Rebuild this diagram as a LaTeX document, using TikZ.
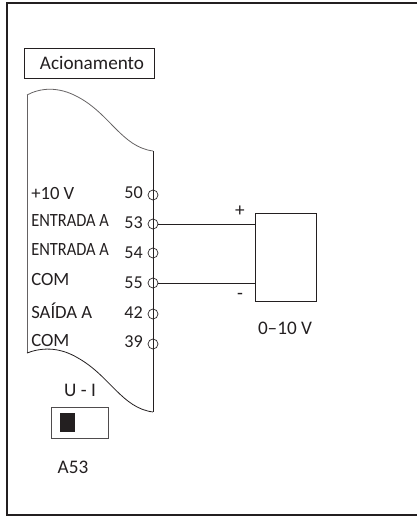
\documentclass[tikz,border=0pt]{standalone}
\usepackage{fontspec}
\setmainfont{Carlito}
\newfontface\narrowface[FakeStretch=0.88]{Carlito}
\usepackage{tikz}
\usetikzlibrary{calc}
\definecolor{inkgray}{HTML}{231F20}

\tikzset{
  label text/.style={text=inkgray,font=\fontsize{14.4}{15}\selectfont,inner sep=0pt},
  pin text/.style={label text,anchor=east,font=\fontsize{13.6}{14}\selectfont},
  name text/.style={label text,anchor=west,font=\fontsize{14}{15}\selectfont},
  narrow text/.style={name text,font=\fontsize{14}{15}\narrowface},
  terminal/.style={draw=inkgray,circle,minimum size=7.5pt,inner sep=0pt,line width=0.5pt}
}

\begin{document}
\begin{tikzpicture}[x=0.75pt,y=-0.75pt]
\useasboundingbox (0,0) rectangle (417,516);
\draw [inkgray,line width=1.5pt] (417,3.5) -- (6.5,3.5) -- (6.5,514.5) -- (417,514.5);
\node [draw=inkgray,line width=0.7pt,minimum width=97.5pt,minimum height=22.5pt,inner sep=0pt] (title) at (89.5,63) {};
\node [label text] (titletext) at (92,63) {Acionamento};
\draw [inkgray!70,line width=0.6pt] (27,95) .. controls (40,88) and (58,86) .. (78,97) .. controls (110,114) and (122,147) .. (153,151);
\draw [inkgray!70,line width=0.6pt] (27,95) -- (27,353);
\draw [inkgray,line width=0.6pt] (153,151) -- (153,412);
\draw [inkgray,line width=0.6pt] (27,353) .. controls (40,348) and (58,346) .. (78,358) .. controls (110,376) and (122,408) .. (153,412);
\node [name text] (name50) at (31,194) {+10 V};
\node [narrow text] (name53) at (31,221) {ENTRADA A};
\node [narrow text] (name54) at (31,250) {ENTRADA A};
\node [name text] (name55) at (31,280) {COM};
\node [name text] (name42) at (31,311) {SAÍDA A};
\node [name text] (name39) at (31,341) {COM};
\node [pin text] (pin50) at (143,193) {50};
\node [pin text] (pin53) at (143,223) {53};
\node [pin text] (pin54) at (143,253) {54};
\node [pin text] (pin55) at (143,283) {55};
\node [pin text] (pin42) at (143,313) {42};
\node [pin text] (pin39) at (143,342) {39};
\node [terminal] (term50) at (153,195) {};
\node [terminal] (term53) at (153,224) {};
\node [terminal] (term54) at (153,253) {};
\node [terminal] (term55) at (153,283) {};
\node [terminal] (term42) at (153,314) {};
\node [terminal] (term39) at (153,344) {};
\node [draw=inkgray,line width=0.6pt,minimum width=45.75pt,minimum height=66pt,inner sep=0pt] (source) at (285.5,257) {};
\draw [inkgray,line width=0.6pt] (term53.east) -- (term53.east -| source.west);
\draw [inkgray,line width=0.6pt] (term55.east) -- (term55.east -| source.west);
\node [label text] (plus) at (240,211) {+};
\node [label text] (minus) at (240,296) {-};
\node [label text] (range) at (285,328) {0–10 V};
\node [label text] (switchname) at (80,390) {U - I};
\node [draw=inkgray!80,line width=0.6pt,minimum width=42.75pt,minimum height=23.25pt,inner sep=0pt] (switch) at (79.5,422.5) {};
\node [fill=inkgray,minimum width=11pt,minimum height=14.5pt,inner sep=0pt] (slider) at (67.5,422.5) {};
\node [label text] (switchid) at (73,467) {A53};
\end{tikzpicture}
\end{document}
